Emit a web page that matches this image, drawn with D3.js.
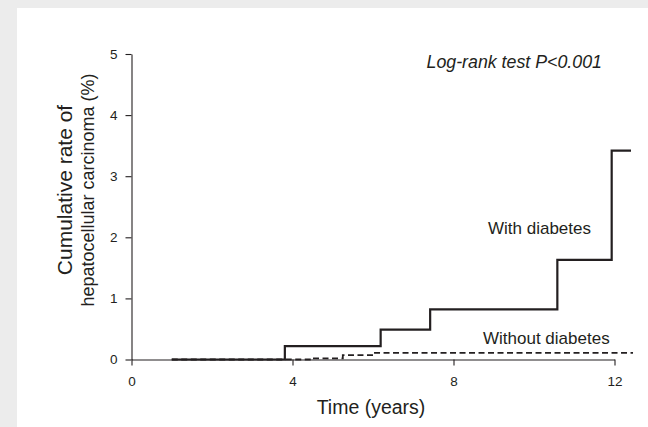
<!DOCTYPE html>
<html>
<head>
<meta charset="utf-8">
<script src="https://cdn.jsdelivr.net/npm/d3@7"></script>
<style>
  html, body { margin: 0; padding: 0; background: #ececec; }
  svg { display: block; font-family: "Liberation Sans", Arial, Helvetica, sans-serif; }
</style>
</head>
<body>
<svg id="chart" width="648" height="427"></svg>
<script>
// Cumulative HCC incidence (%) by follow-up time (years)
const withDiabetesTimes  = [1, 3.81, 6.19, 7.42, 10.58, 11.93, 12.41];
const withDiabetesRates  = [0, 0.22, 0.49, 0.82, 1.63, 3.42, 3.42];
const withoutDiabetesTimes = [1, 4.48, 5.25, 6.0, 12.46];
const withoutDiabetesRates = [0, 0.02, 0.07, 0.11, 0.11];
const xTicks = [0, 4, 8, 12];
const yTicks = [0, 1, 2, 3, 4, 5];

const ink = "#231f20";
const svg = d3.select("#chart");

// white panel
svg.append("rect").attr("x", 17).attr("y", 8).attr("width", 648).attr("height", 427).attr("fill", "#ffffff");

const x = d3.scaleLinear().domain([0, 12]).range([131.5, 614.5]);
const y = d3.scaleLinear().domain([0, 5]).range([359.5, 54]);

const xAxis = svg.append("g").attr("transform", `translate(0,${y(0)})`)
  .call(d3.axisBottom(x).tickValues(xTicks).tickFormat(d3.format("d"))
    .tickSize(6).tickSizeOuter(0).tickPadding(11));
const yAxis = svg.append("g").attr("transform", `translate(${x(0)},0)`)
  .call(d3.axisLeft(y).tickValues(yTicks).tickFormat(d3.format("d"))
    .tickSize(6).tickSizeOuter(0).tickPadding(8));

[xAxis, yAxis].forEach(g => {
  g.select(".domain").attr("stroke", ink).attr("stroke-width", 1.1);
  g.selectAll(".tick line").attr("stroke", ink).attr("stroke-width", 1.1);
  g.selectAll(".tick text").attr("fill", ink).attr("font-size", 13.5)
    .attr("font-family", "'Liberation Sans', Arial, sans-serif");
});

const step = d3.line().x(d => x(d[0])).y(d => y(d[1])).curve(d3.curveStepAfter);

svg.append("path")
  .datum(d3.zip(withoutDiabetesTimes, withoutDiabetesRates))
  .attr("d", step).attr("fill", "none").attr("stroke", ink)
  .attr("stroke-width", 1.8).attr("stroke-dasharray", "6,3.5");

svg.append("path")
  .datum(d3.zip(withDiabetesTimes, withDiabetesRates))
  .attr("d", step).attr("fill", "none").attr("stroke", ink)
  .attr("stroke-width", 2.2).attr("stroke-linejoin", "miter");

// labels
svg.append("text").attr("x", 426.5).attr("y", 67.5)
  .attr("font-size", 17.8).attr("font-style", "italic").attr("fill", ink)
  .text("Log-rank test P<0.001");

svg.append("text").attr("x", 488).attr("y", 234)
  .attr("font-size", 17).attr("fill", ink).text("With diabetes");

svg.append("text").attr("x", 483).attr("y", 344)
  .attr("font-size", 17).attr("fill", ink).text("Without diabetes");

svg.append("text").attr("x", 371).attr("y", 414)
  .attr("text-anchor", "middle").attr("font-size", 19.5).attr("fill", ink)
  .text("Time (years)");

const yl = svg.append("text").attr("transform", "translate(0,190) rotate(-90)")
  .attr("text-anchor", "middle").attr("fill", ink);
yl.append("tspan").attr("x", 0).attr("y", 72).attr("font-size", 21).text("Cumulative rate of");
yl.append("tspan").attr("x", 0).attr("y", 94).attr("font-size", 18).text("hepatocellular carcinoma (%)");
</script>
</body>
</html>
